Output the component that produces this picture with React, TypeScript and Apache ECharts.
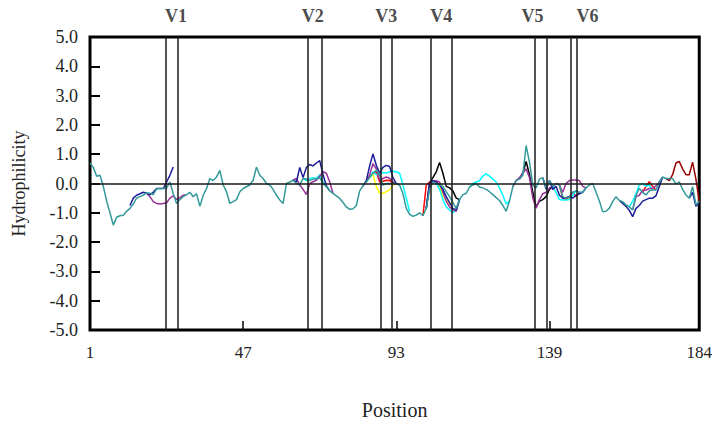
import React, { useEffect, useRef } from "react";
import * as echarts from "echarts";

// Positions of the tick labels on the x axis
const xTickLabels = [1, 47, 93, 139, 184];
const xTickMarks = [47, 93, 139];

// Vertical boundary lines of variable regions (position units)
const vLines = [23.8, 27.4, 66.4, 70.6, 88.3, 91.5, 103.5, 109.8, 134.5, 138.2, 145.5, 147.25];
const vLabels = ["V1", "V2", "V3", "V4", "V5", "V6"];
const vLabelPos = [26.8, 67.9, 90.0, 106.5, 133.9, 150.4];

// Main (teal) profile, positions 1..184
const teal = [
  0.70, 0.55, 0.25, 0.28, -0.10, -0.60, -1.00, -1.42, -1.15, -1.10,
  -1.08, -0.95, -0.85, -0.70, -0.50, -0.45, -0.40, -0.32, -0.33, -0.38,
  -0.18, -0.17, -0.17, -0.15, 0.05, -0.35, -0.68, -0.55, -0.45, -0.38,
  -0.30, -0.45, -0.35, -0.78, -0.40, -0.17, 0.17, 0.10, 0.22, 0.45,
  -0.05, -0.28, -0.68, -0.62, -0.55, -0.28, -0.17, -0.11, -0.05, 0.11,
  0.56, 0.28, 0.17, 0.00, -0.05, -0.20, -0.40, -0.56, -0.68, 0.00,
  0.05, 0.11, 0.00, -0.05, 0.17, 0.15, 0.10, 0.15, 0.15, 0.20,
  0.00, -0.11, -0.25, -0.34, -0.42, -0.51, -0.65, -0.80, -0.88, -0.86,
  -0.75, -0.25, -0.08, 0.05, 0.20, 0.35, 0.45, 0.30, -0.05, 0.00,
  0.00, 0.00, 0.00, -0.05, -0.35, -0.85, -1.05, -1.12, -1.08, -1.00,
  -1.10, -0.85, -0.20, 0.05, 0.00, -0.05, -0.10, -0.28, -0.45, -0.65,
  -0.85, -0.55, -0.38, -0.34, -0.12, -0.05, 0.00, -0.12, -0.15, -0.20,
  -0.28, -0.38, -0.48, -0.58, -0.75, -0.95, -0.60, -0.11, 0.11, 0.15,
  0.28, 1.29, 0.73, -0.05, -0.15, 0.15, 0.20, -0.15, 0.10, -0.10,
  0.00, -0.05, -0.45, -0.50, -0.45, -0.30, -0.25, -0.30, -0.30, -0.15,
  -0.05, 0.00, -0.30, -0.60, -0.96, -0.95, -0.84, -0.62, -0.45, -0.58,
  -0.62, -0.73, -0.80, -0.90, -0.40, -0.17, -0.30, -0.39, -0.25, -0.22,
  -0.22, 0.05, 0.22, 0.17, 0.17, 0.17, -0.02, 0.06, -0.20, -0.39,
  -0.50, -0.11, -0.73, -0.60,
];

// Other sequences: only where they differ from the teal profile
const navySegs = [
  { start: 13, values: [-0.75, -0.50, -0.40, -0.35, -0.30, -0.33, -0.38, -0.30, -0.17, -0.17, -0.17, 0.05, 0.28, 0.56] },
  { start: 62, values: [0.11, 0.05, 0.55, 0.20, 0.55, 0.65, 0.60, 0.70, 0.78, 0.30, -0.08, -0.25] },
  { start: 83, values: [-0.08, 0.10, 0.60, 1.01, 0.62, 0.35, 0.55, 0.62, 0.58, 0.20, 0.00, -0.05] },
  { start: 102, values: [-0.85, 0.00, 0.10, 0.05, -0.05, -0.20, -0.45, -0.65, -0.85, -0.90, -0.55] },
  { start: 137, values: [0.20, -0.20, 0.10, -0.20, -0.10, -0.40, -0.50, -0.48, -0.45, -0.50, -0.40, -0.35, -0.30, -0.15] },
  { start: 160, values: [-0.58, -0.68, -0.78, -0.92, -1.13, -0.85, -0.75, -0.60, -0.55, -0.50, -0.50, -0.42, -0.10, 0.22] },
  { start: 181, values: [-0.50, -0.30, -0.78, -0.65] },
];
const magentaSegs = [
  { start: 18, values: [-0.33, -0.45, -0.62, -0.68, -0.70, -0.68, -0.66, -0.50, -0.42, -0.55, -0.48, -0.40, -0.38] },
  { start: 62, values: [0.11, 0.17, -0.05, -0.20, -0.38, 0.00, 0.06, 0.11, 0.25, 0.40, 0.35, 0.05, -0.34] },
  { start: 83, values: [-0.08, 0.05, 0.30, 0.68, 0.50, 0.12, 0.17, 0.22, 0.18, 0.05, 0.00] },
  { start: 102, values: [-0.85, 0.00, 0.05, 0.10, 0.05, -0.30, -0.60, -0.80, -0.90, -0.95, -0.55] },
  { start: 128, values: [-0.11, 0.10, 0.20, 0.35, 0.50, 0.20, -0.50, -0.84, -0.55, -0.35, -0.30, -0.15, -0.10, 0.00, -0.05, -0.30, 0.00, 0.10, 0.12, 0.12, 0.10, -0.10, -0.15] },
  { start: 164, values: [-0.90, -0.45, -0.40, -0.23, -0.22, -0.17, -0.17, -0.08, 0.05, 0.22] },
];
const cyanSegs = [
  { start: 65, values: [0.17, 0.10, 0.17, 0.20, 0.17, 0.30, 0.05, -0.11] },
  { start: 85, values: [0.20, 0.40, 0.30, 0.30, 0.38, 0.36, 0.40, 0.42, 0.40, 0.35, -0.05, -0.50, -0.95] },
  { start: 104, values: [0.05, 0.00, -0.20, -0.55, -0.80, -0.90, -1.00, -0.90, -0.55] },
  { start: 115, values: [-0.12, 0.00, 0.05, 0.10, 0.25, 0.33, 0.25, 0.15, 0.05, -0.15, -0.40, -0.70, -0.60] },
  { start: 139, values: [0.10, -0.10, -0.30, -0.55, -0.56, -0.56, -0.55, -0.40, -0.25] },
  { start: 163, values: [-0.80, -0.60, -0.35, -0.05, 0.00, -0.10, -0.05, -0.22] },
];
const redSegs = [
  { start: 86, values: [0.35, 0.40, 0.05, 0.08, 0.11, 0.10, 0.02, 0.00] },
  { start: 101, values: [-1.10, -0.05, 0.05, 0.10, 0.05, -0.05] },
  { start: 142, values: [-0.05, -0.50, -0.55, -0.45, -0.30, -0.45, -0.30] },
  { start: 167, values: [-0.30, -0.10, 0.06, -0.10, -0.22] },
];
const yellowSegs = [
  { start: 84, values: [0.05, 0.25, 0.30, -0.10, -0.33, -0.34, -0.28, -0.22, -0.05, 0.00] },
  { start: 104, values: [0.05, 0.00, -0.10, -0.40, -0.55, -0.70, -0.65] },
];
const blackSegs = [
  { start: 102, values: [-0.85, 0.00, 0.20, 0.40, 0.72, 0.35, -0.10, -0.15, -0.25, -0.50, -0.55] },
  { start: 130, values: [0.15, 0.35, 0.75, 0.30, -0.30, -0.80, -0.60, -0.55, -0.45, -0.20, -0.10] },
];
const darkRedSegs = [
  { start: 174, values: [0.17, 0.10, 0.30, 0.70, 0.75, 0.50, 0.30, 0.30, 0.73, 0.15, -0.60] },
];

const SERIF = "'Liberation Serif', 'DejaVu Serif', serif";

export default function App() {
  const ref = useRef<HTMLDivElement>(null);

  useEffect(() => {
    if (!ref.current) return;
    const chart = echarts.init(ref.current, null, { renderer: "svg" });

    const segSeries = (segs: { start: number; values: number[] }[], color: string) =>
      segs.map((s) => ({
        type: "line",
        data: s.values.map((v, i) => [s.start + i, v]),
        showSymbol: false,
        symbol: "none",
        lineStyle: { color, width: 1.5 },
        z: 2,
        silent: true,
      }));

    const series: any[] = [
      ...segSeries(yellowSegs, "#FFFF00"),
      ...segSeries(redSegs, "#FF0000"),
      ...segSeries(cyanSegs, "#00FFFF"),
      ...segSeries(blackSegs, "#000000"),
      ...segSeries(magentaSegs, "#993399"),
      ...segSeries(navySegs, "#1C1C9A"),
      ...segSeries(darkRedSegs, "#990000"),
      {
        type: "line",
        data: teal.map((v, i) => [i + 1, v]),
        showSymbol: false,
        symbol: "none",
        lineStyle: { color: "#339999", width: 1.5 },
        z: 3,
        silent: true,
        markLine: {
          silent: true,
          symbol: ["none", "none"],
          label: { show: false },
          lineStyle: { color: "#1a1a1a", width: 1.5, type: "solid" },
          data: [...vLines.map((x) => ({ xAxis: x })), { yAxis: 0 }],
        },
      },
      {
        type: "scatter",
        data: vLabelPos.map((p) => [p, 5]),
        symbolSize: 0.01,
        clip: false,
        silent: true,
        z: 5,
        label: {
          show: true,
          position: "top",
          distance: 12,
          formatter: (p: any) => vLabels[p.dataIndex],
          fontFamily: SERIF,
          fontWeight: "bold",
          fontSize: 18,
          color: "#1a1a1a",
        },
      },
    ];

    chart.setOption({
      animation: false,
      backgroundColor: "#ffffff",
      grid: {
        left: 90,
        right: 15,
        top: 37,
        bottom: 93,
        show: true,
        borderColor: "#000000",
        borderWidth: 3,
        backgroundColor: "transparent",
      },
      xAxis: {
        type: "value",
        min: 1,
        max: 184,
        name: "Position",
        nameLocation: "middle",
        nameGap: 70,
        nameTextStyle: { fontFamily: SERIF, fontSize: 20, color: "#222" },
        axisLine: { show: false, onZero: false },
        splitLine: { show: false },
        axisTick: {
          show: true,
          inside: true,
          length: 9,
          customValues: xTickMarks,
          lineStyle: { color: "#000", width: 1.5 },
        },
        axisLabel: {
          customValues: xTickLabels,
          margin: 14,
          fontFamily: SERIF,
          fontSize: 17,
          color: "#222",
        },
      },
      yAxis: {
        type: "value",
        min: -5,
        max: 5,
        interval: 1,
        name: "Hydrophilicity",
        nameLocation: "middle",
        nameRotate: 90,
        nameGap: 62,
        nameTextStyle: { fontFamily: SERIF, fontSize: 18, color: "#222" },
        axisLine: { show: false, onZero: false },
        splitLine: { show: false },
        axisTick: { show: true, inside: true, length: 10, lineStyle: { color: "#000", width: 2 } },
        axisLabel: {
          margin: 12,
          fontFamily: SERIF,
          fontSize: 18,
          color: "#222",
          formatter: (v: number) => v.toFixed(1),
        },
      },
      series,
    });

    return () => chart.dispose();
  }, []);

  return (
    <div
      ref={ref}
      style={{ position: "fixed", left: 0, top: 0, width: 715, height: 425, background: "#fff" }}
    />
  );
}
